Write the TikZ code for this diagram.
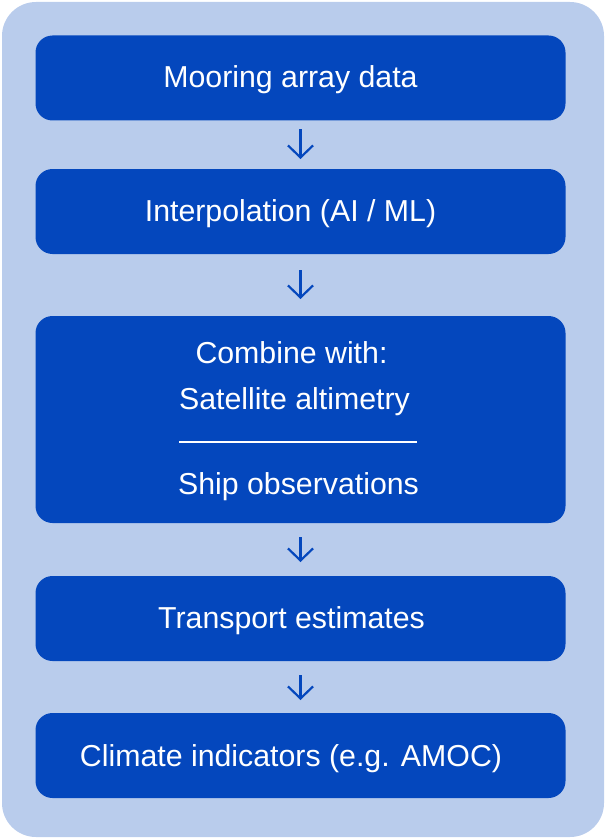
\documentclass[tikz,border=0pt]{standalone}
\usepackage{fontspec}
\setmainfont{Liberation Sans}
\usetikzlibrary{arrows.meta}
\definecolor{bgblue}{HTML}{B9CCEC}
\definecolor{boxblue}{HTML}{0447BD}
\begin{document}
\begin{tikzpicture}[x=1pt,y=-1pt,
  stepbox/.style={draw=none,fill=boxblue,rounded corners=17pt,minimum width=530pt,inner sep=0pt,outer sep=0pt},
  lbl/.style={text=white,font=\fontsize{30.3}{35}\selectfont,anchor=base,inner sep=0pt},
  arr/.style={draw=boxblue,line width=2.2pt,-{Straight Barb[length=12pt,width=25pt,line width=2.2pt]}}]
\useasboundingbox (0,0) rectangle (606,840);
\fill[bgblue,rounded corners=34pt] (2,2) rectangle (604,837);
\node[stepbox,minimum height=85pt] (b1) at (300.5,78) {};
\node[stepbox,minimum height=85pt] (b2) at (300.5,211.5) {};
\node[stepbox,minimum height=207pt] (b3) at (300.5,419.5) {};
\node[stepbox,minimum height=85pt] (b4) at (300.5,618.5) {};
\node[stepbox,minimum height=85pt] (b5) at (300.5,755.5) {};
\node[lbl] (t1) at (290.5,88) {Mooring array data};
\node[lbl] (t2) at (290.5,221.5) {Interpolation (AI / ML)};
\node[lbl] (t3a) at (291.5,363.5) {Combine with:};
\node[lbl] (t3b) at (294.5,409.5) {Satellite altimetry};
\node[lbl] (t3c) at (298.5,494.5) {Ship observations};
\node[lbl] (t4) at (291.5,628.5) {Transport estimates};
\node[lbl] (t5) at (291,766) {Climate indicators (e.g. AMOC)};
\coordinate (dl) at (179,442);
\coordinate (dr) at (417,442);
\draw[white,line width=1.6pt] (dl) -- (dr);
\draw[arr] ([yshift=-9pt]b1.south) -- ([yshift=10pt]b2.north);
\draw[arr] ([yshift=-16pt]b2.south) -- ([yshift=17pt]b3.north);
\draw[arr] ([yshift=-14pt]b3.south) -- ([yshift=14pt]b4.north);
\draw[arr] ([yshift=-14pt]b4.south) -- ([yshift=13pt]b5.north);
\end{tikzpicture}
\end{document}
